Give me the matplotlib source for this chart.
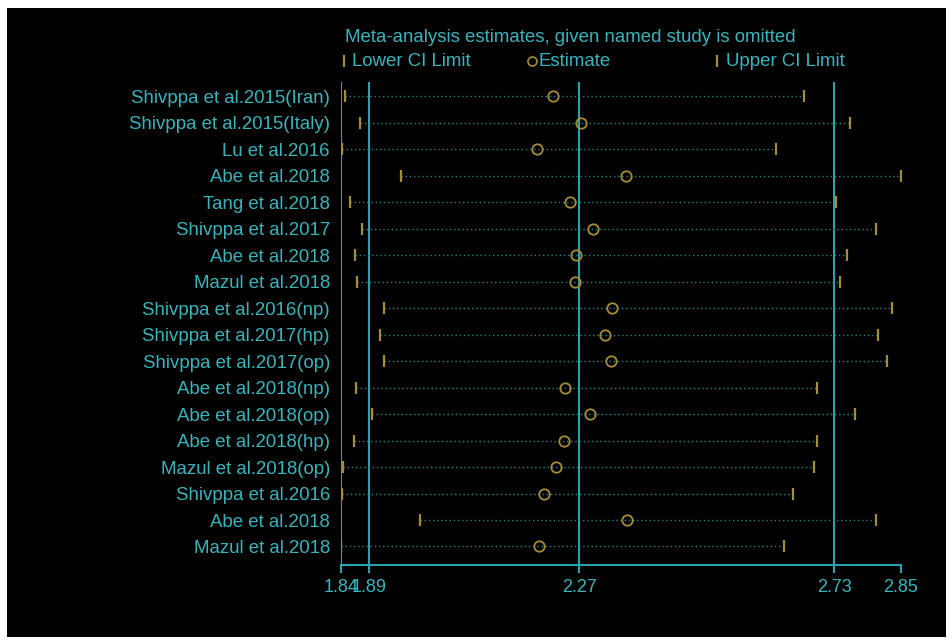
import matplotlib.pyplot as plt
from matplotlib.lines import Line2D
from matplotlib.patches import Rectangle

# Studies and the pooled estimate / CI when each one is left out
studies = [
    "Shivppa et al.2015(Iran)", "Shivppa et al.2015(Italy)", "Lu et al.2016",
    "Abe et al.2018", "Tang et al.2018", "Shivppa et al.2017", "Abe et al.2018",
    "Mazul et al.2018", "Shivppa et al.2016(np)", "Shivppa et al.2017(hp)",
    "Shivppa et al.2017(op)", "Abe et al.2018(np)", "Abe et al.2018(op)",
    "Abe et al.2018(hp)", "Mazul et al.2018(op)", "Shivppa et al.2016",
    "Abe et al.2018", "Mazul et al.2018",
]
lower = [1.847, 1.874, 1.841, 1.948, 1.857, 1.877, 1.865, 1.869, 1.917,
         1.910, 1.917, 1.867, 1.896, 1.864, 1.844, 1.841, 1.982, 1.840]
estimate = [2.222, 2.273, 2.194, 2.354, 2.254, 2.294, 2.265, 2.262, 2.329,
            2.317, 2.327, 2.244, 2.290, 2.242, 2.228, 2.206, 2.357, 2.198]
upper = [2.676, 2.758, 2.626, 2.850, 2.734, 2.805, 2.754, 2.740, 2.835,
         2.810, 2.826, 2.700, 2.768, 2.700, 2.694, 2.655, 2.805, 2.640]

# reference lines: min lower, overall lower, overall estimate, overall upper, max upper
ref_ticks = [1.84, 1.89, 2.27, 2.73, 2.85]
ref_lines = [1.84, 1.89, 2.27, 2.73]

teal = "#3ab4bc"
line_teal = "#2aa4ac"
dot_teal = "#1f8890"
gold = "#a68d3a"
font = "Liberation Sans"

W, H = 952, 641
fig = plt.figure(figsize=(W / 100, H / 100), dpi=100, facecolor="white")
fig.add_artist(Rectangle((7 / W, 4 / H), (946 - 7) / W, (633 - 4) / H,
                         transform=fig.transFigure, facecolor="black",
                         edgecolor="none", zorder=0))

ax = fig.add_axes([341 / W, 1 - 565 / H, (900.6 - 341) / W, (565 - 81.7) / H])
ax.set_facecolor("none")

rows = list(range(len(studies)))
for i in rows:
    ax.plot([lower[i], upper[i]], [i, i], color=dot_teal, lw=1.0,
            linestyle=(0, (1, 2)), zorder=2)
ax.plot(lower, rows, linestyle="none", marker="|", markersize=8,
        markeredgewidth=1.6, color=gold, zorder=3)
ax.plot(upper, rows, linestyle="none", marker="|", markersize=8,
        markeredgewidth=1.6, color=gold, zorder=3)
ax.plot(estimate, rows, linestyle="none", marker="o", markersize=7.5,
        markerfacecolor="none", markeredgewidth=1.3, color=gold, zorder=3)

for v in ref_lines:
    ax.axvline(v, color=line_teal, lw=1.5, zorder=1)

ax.set_xlim(1.84, 2.85)
ax.set_ylim(17.70, -0.559)

for s in ["top", "right", "left"]:
    ax.spines[s].set_visible(False)
ax.spines["bottom"].set_color(line_teal)
ax.spines["bottom"].set_linewidth(1.5)

ax.set_xticks(ref_ticks, [f"{t:.2f}" for t in ref_ticks])
ax.tick_params(axis="x", colors=line_teal, length=6, width=1.5, pad=4,
               labelsize=13, labelcolor=teal)
ax.set_yticks(rows, studies)
ax.tick_params(axis="y", length=0, pad=8, labelsize=13.4, labelcolor=teal)
for lab in ax.get_xticklabels() + ax.get_yticklabels():
    lab.set_fontfamily(font)

# title and legend above the plot
fig.text(345 / W, 1 - 37 / H, "Meta-analysis estimates, given named study is omitted",
         color=teal, fontsize=13.4, family=font, va="center", ha="left")
leg_y = 1 - 61 / H
fig.add_artist(Line2D([344 / W], [leg_y], marker="|", markersize=8,
                      markeredgewidth=1.6, color=gold, linestyle="none"))
fig.text(352 / W, leg_y, "Lower CI Limit", color=teal, fontsize=13.4,
         family=font, va="center", ha="left")
fig.add_artist(Line2D([532 / W], [leg_y], marker="o", markersize=6.5,
                      markerfacecolor="none", markeredgewidth=1.2, color=gold,
                      linestyle="none"))
fig.text(539 / W, leg_y, "Estimate", color=teal, fontsize=13.4,
         family=font, va="center", ha="left")
fig.add_artist(Line2D([717 / W], [leg_y], marker="|", markersize=8,
                      markeredgewidth=1.6, color=gold, linestyle="none"))
fig.text(726 / W, leg_y, "Upper CI Limit", color=teal, fontsize=13.4,
         family=font, va="center", ha="left")

fig.savefig("out.png", dpi=100, facecolor=fig.get_facecolor())
